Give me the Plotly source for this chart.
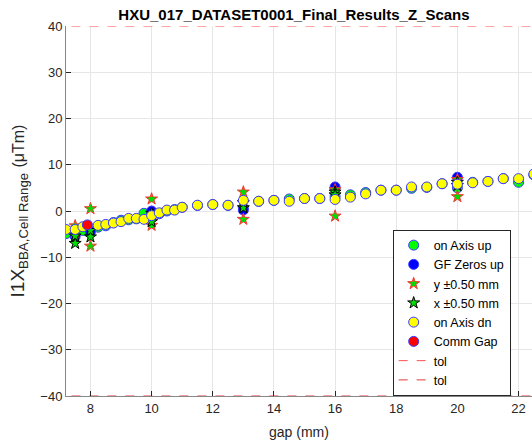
import plotly.graph_objects as go

# ---- data ----
gap = [7.2, 7.5, 7.75, 8.25, 8.5, 8.75, 9.0, 9.25, 9.5, 9.75, 10.0, 10.25, 10.5, 10.75,
       11.0, 11.5, 12.0, 12.5, 13.0, 13.5, 14.0, 14.5, 15.0, 15.5, 16.0, 16.5, 17.0,
       17.5, 18.0, 18.5, 19.0, 19.5, 20.0, 20.5, 21.0, 21.5, 22.0, 22.5]
on_axis_dn = [-4.0, -4.0, -3.4, -3.1, -2.9, -2.6, -2.3, -1.6, -1.6, -1.8, -1.0, -0.4, 0.2, 0.2,
              0.8, 1.25, 1.4, 1.25, 2.3, 2.1, 2.3, 2.1, 2.7, 2.7, 2.5, 3.0, 3.7,
              4.5, 4.5, 5.2, 5.2, 5.9, 5.8, 6.1, 6.4, 7.0, 7.0, 8.0]
on_axis_up = [-4.9, -5.0, -4.2, -3.5, -3.2, -2.5, -2.0, -1.9, -1.7, -0.5, -0.8, -0.6, 0.0, 0.3,
              0.8, 1.2, 1.4, 1.2, 0.7, 2.1, 2.3, 2.6, 2.7, 2.7, 3.2, 3.5, 4.0,
              4.5, 4.5, 4.9, 5.1, 5.9, 5.0, 6.2, 6.4, 7.0, 6.2, 7.8]

gf_gap = [7.5, 8.0, 10.0, 13.0, 16.0, 20.0]
gf_zeros_up = [-5.5, -4.5, 0.0, 0.2, 5.2, 7.3]

scan_gap = [7.5, 7.5, 8.0, 8.0, 10.0, 10.0, 13.0, 13.0, 16.0, 16.0, 20.0, 20.0]
y_scan = [-3.2, -4.6, 0.5, -7.6, 2.6, -3.1, 4.1, -1.8, 4.6, -1.1, 6.8, 3.1]
x_scan = [-7.0, -5.4, -5.6, -4.2, -2.3, -0.5, 0.7, 1.8, 4.1, 3.5, 6.2, 5.5]

comm_gap = [7.9]
comm_val = [-3.0]

tol = 40
x_range = [7.2, 22.44]
y_range = [-40, 40]
x_ticks = [8, 10, 12, 14, 16, 18, 20, 22]
y_ticks = [-40, -30, -20, -10, 0, 10, 20, 30, 40]

EDGE = "#3a3aff"
fig = go.Figure()

def circ(x, y, name, fill):
    fig.add_trace(go.Scatter(x=x, y=y, mode="markers", name=name,
                             marker=dict(symbol="circle", size=10, color=fill,
                                         line=dict(color=EDGE, width=1))))

circ(gap, on_axis_up, "on Axis up", "#00ff00")
circ(gf_gap, gf_zeros_up, "GF Zeros up", "#0000ff")
fig.add_trace(go.Scatter(x=scan_gap, y=y_scan, mode="markers", name="y ±0.50 mm",
                         marker=dict(symbol="star", size=9, color="#00dd00",
                                     line=dict(color="#ff3030", width=1))))
fig.add_trace(go.Scatter(x=scan_gap, y=x_scan, mode="markers", name="x ±0.50 mm",
                         marker=dict(symbol="star", size=9, color="#00dd00",
                                     line=dict(color="#000000", width=1))))
circ(gap, on_axis_dn, "on Axis dn", "#ffff00")
circ(comm_gap, comm_val, "Comm Gap", "#ff0000")

tx = [x_range[0] - 1, x_range[1] + 1]
fig.add_trace(go.Scatter(x=tx, y=[tol, tol], mode="lines", name="tol",
                         line=dict(color="#ff5050", width=1, dash="dash")))
fig.add_trace(go.Scatter(x=tx, y=[-tol, -tol], mode="lines", name="tol",
                         line=dict(color="#e03a3a", width=1, dash="dash")))

FONT = "Liberation Sans, Arial, sans-serif"
TXT = "#262626"
fig.update_layout(
    width=532, height=447,
    margin=dict(l=66, r=0, t=26, b=51),
    paper_bgcolor="white", plot_bgcolor="white",
    font=dict(family=FONT, size=13, color=TXT),
    title=dict(text="<b>HXU_017_DATASET0001_Final_Results_Z_Scans</b>",
               x=294 / 532, xanchor="center", y=1 - 15 / 447, yanchor="middle",
               font=dict(size=15, color="#000000")),
    showlegend=True,
    legend=dict(x=0.701, y=0.45, xanchor="left", yanchor="top",
                bgcolor="white", bordercolor="#262626", borderwidth=1,
                font=dict(size=12.5, color="#000000"), itemwidth=30),
)
fig.update_xaxes(range=x_range, tickvals=x_ticks, ticks="inside", ticklen=5,
                 tickcolor="#262626", showgrid=True, gridcolor="#e6e6e6",
                 showline=True, linecolor="#888888", linewidth=1, zeroline=False,
                 automargin=False, tickfont=dict(size=13, color=TXT),
                 title=dict(text="gap (mm)", font=dict(size=14, color=TXT), standoff=12))
fig.update_yaxes(range=y_range, tickvals=y_ticks, ticks="inside", ticklen=5,
                 tickcolor="#262626", showgrid=True, gridcolor="#e6e6e6",
                 showline=True, linecolor="#888888", linewidth=1, zeroline=False,
                 automargin=False, tickfont=dict(size=13, color=TXT),
                 title=dict(text="I1X<sub>BBA,Cell Range</sub> <span style=\"font-size:16px\">(μTm)</span>",
                            font=dict(size=19, color=TXT), standoff=10))

fig.write_html("out.html", config={"displayModeBar": False},
               post_script="document.body.style.margin='0';")
